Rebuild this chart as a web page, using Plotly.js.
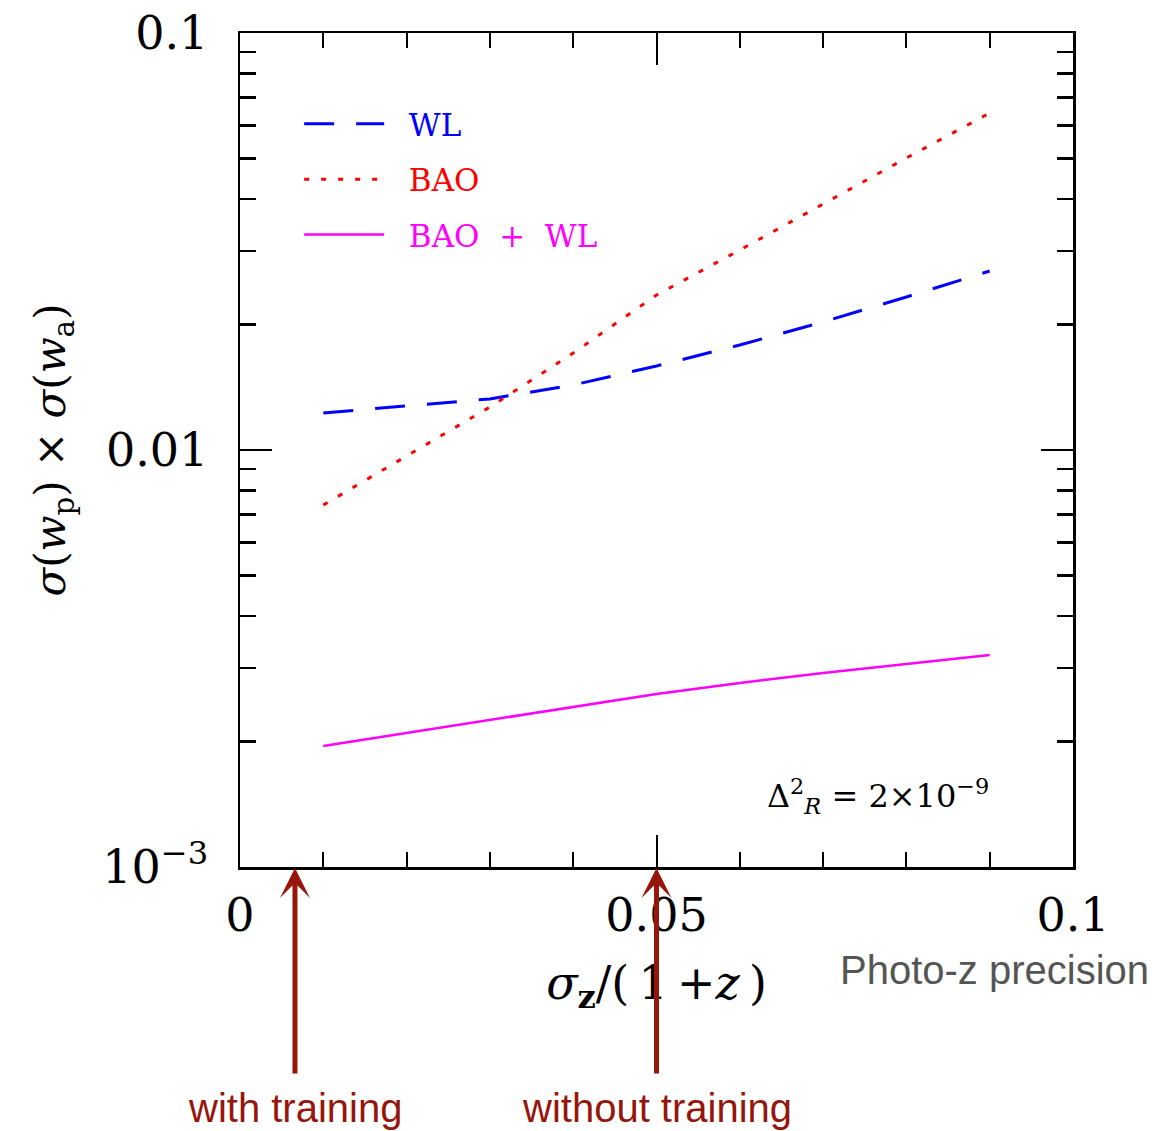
<!DOCTYPE html>
<html>
<head>
<meta charset="utf-8">
<script src="https://cdn.plot.ly/plotly-3.0.1.min.js"></script>
<style>html,body{margin:0;padding:0;background:#fff;}#chart{width:1159px;height:1131px;}</style>
</head>
<body>
<div id="chart"></div>
<script>
// ---- data ----
const sigmaZ = [0.01, 0.02, 0.03, 0.04, 0.05, 0.06, 0.07, 0.08, 0.09];
const wlFoM  = [0.01227, 0.01275, 0.01326, 0.01432, 0.01590, 0.01786, 0.02028, 0.02328, 0.02687];
const baoFoM = [0.00738, 0.00967, 0.01268, 0.01708, 0.02353, 0.03017, 0.03890, 0.05015, 0.06429];
const bothFoM = [0.001951, 0.002096, 0.002252, 0.002419, 0.002600, 0.002762, 0.002919, 0.003067, 0.003224];

const yMajorVals = [0.001, 0.01, 0.1];
const yMajorText = ["10<sup>−3</sup>", "0.01", "0.1"];
const yMinorVals = [];
[0.001, 0.01].forEach(d => { for (let k = 2; k <= 9; k++) yMinorVals.push(+(k * d).toPrecision(3)); });
const xMajorVals = [0, 0.05, 0.1];
const xMajorText = ["0", "0.05", "0.1"];
const xMinorVals = [0.01, 0.02, 0.03, 0.04, 0.06, 0.07, 0.08, 0.09];

const arrowTargets = [0.0066, 0.05];
const arrowLabels = ["with training", "without training"];

const serif = "DejaVu Serif";
const darkRed = "rgb(150,22,12)";
const gap = "\u00a0\u00a0";

const traces = [
  { x: sigmaZ, y: wlFoM, mode: "lines", name: gap + '<span style="color:#0000ff">WL</span>',
    line: { color: "#0000ff", width: 3, dash: "30px,22px" }, legendgroup: "a" },
  { x: sigmaZ, y: baoFoM, mode: "lines", name: gap + '<span style="color:#ff0000">BAO</span>',
    line: { color: "#ff0000", width: 3, dash: "5px,12px" }, legendgroup: "b" },
  { x: sigmaZ, y: bothFoM, mode: "lines", name: gap + '<span style="color:#ff00ff">BAO\u00a0\u00a0+\u00a0\u00a0WL</span>',
    line: { color: "#ff00ff", width: 2.5 }, legendgroup: "c" }
];

const annotations = [];
arrowTargets.forEach((xv, i) => {
  annotations.push({
    x: xv, y: 0, xref: "x", yref: "paper", text: "", showarrow: true,
    ax: 0, ay: 208, arrowhead: 3, arrowsize: 1, arrowwidth: 5, arrowcolor: darkRed,
    standoff: 1
  });
  annotations.push({
    x: xv, y: -0.289, xref: "x", yref: "paper", text: arrowLabels[i], showarrow: false,
    xanchor: "center", yanchor: "middle",
    font: { family: "Liberation Sans, Arial, sans-serif", size: 40, color: darkRed }
  });
});
annotations.push({
  x: 1.0, y: -0.124, xref: "paper", yref: "paper", text: "Photo-z precision", showarrow: false,
  xanchor: "left", yanchor: "middle", xshift: -235,
  font: { family: "Liberation Sans, Arial, sans-serif", size: 40, color: "#555555" }
});
annotations.push({
  x: 0.63, y: 0.085, xref: "paper", yref: "paper",
  text: "Δ<sup>2</sup><sub><i>R</i></sub> = 2×10<sup>−9</sup>", showarrow: false,
  xanchor: "left", yanchor: "middle",
  font: { family: serif, size: 32, color: "#000" }
});

const layout = {
  width: 1159, height: 1131,
  margin: { l: 240, r: 86, t: 33, b: 264 },
  paper_bgcolor: "#fff", plot_bgcolor: "#fff",
  showlegend: true,
  legend: {
    x: 0.071, y: 0.923, xanchor: "left", yanchor: "top",
    bgcolor: "rgba(0,0,0,0)", itemwidth: 80, tracegroupgap: 12,
    font: { family: serif, size: 31, color: "#000" }
  },
  xaxis: {
    type: "linear", range: [0, 0.1], showgrid: false, zeroline: false,
    showline: true, linecolor: "#000", linewidth: 2.5, mirror: "ticks",
    ticks: "inside", ticklen: 32, tickwidth: 2, tickcolor: "#000",
    tickmode: "array", tickvals: xMajorVals, ticktext: xMajorText,
    ticklabelstandoff: 6,
    tickfont: { family: serif, size: 46, color: "#000" },
    minor: { tickmode: "array", tickvals: xMinorVals, ticks: "inside", ticklen: 15, tickwidth: 2, tickcolor: "#000" },
    title: { text: "<i>σ</i><sub><b>z</b></sub>/(\u20091\u2009+<i>z</i>\u2009)", standoff: 26,
             font: { family: serif, size: 46, color: "#000" } }
  },
  yaxis: {
    type: "log", range: [-3, -1], showgrid: false, zeroline: false,
    showline: true, linecolor: "#000", linewidth: 2.5, mirror: "ticks",
    ticks: "inside", ticklen: 32, tickwidth: 2.5, tickcolor: "#000",
    tickmode: "array", tickvals: yMajorVals, ticktext: yMajorText,
    ticklabelstandoff: 20,
    tickfont: { family: serif, size: 46, color: "#000" },
    minor: { tickmode: "array", tickvals: yMinorVals, ticks: "inside", ticklen: 16, tickwidth: 2.5, tickcolor: "#000" },
    title: { text: "<i>σ</i>(<i>w</i><sub>p</sub>) × <i>σ</i>(<i>w</i><sub>a</sub>)", standoff: 24,
             font: { family: serif, size: 42, color: "#000" } }
  },
  annotations: annotations
};

Plotly.newPlot("chart", traces, layout, { displayModeBar: false, staticPlot: true });
</script>
</body>
</html>
